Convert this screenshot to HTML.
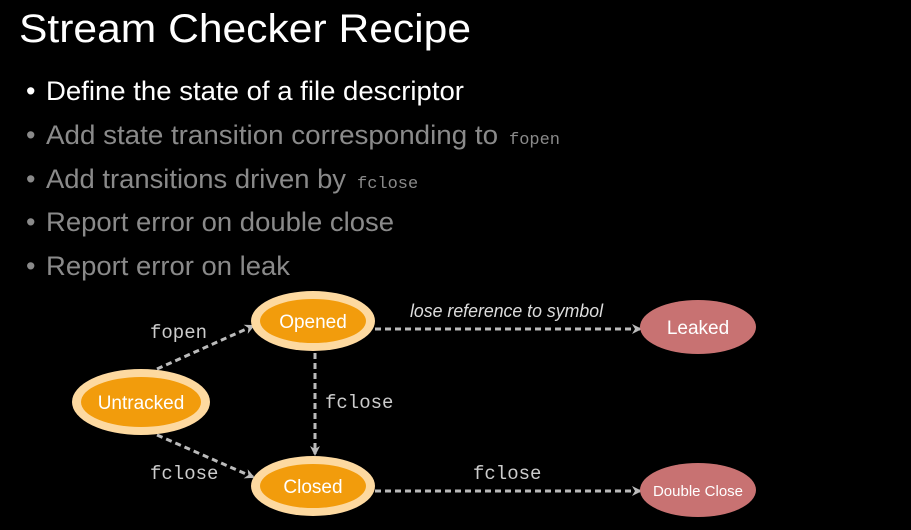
<!DOCTYPE html>
<html><head><meta charset="utf-8"><style>
html,body{margin:0;padding:0;background:#000;width:911px;height:530px;overflow:hidden}
</style></head><body>
<svg width="911" height="530" xmlns="http://www.w3.org/2000/svg" font-family="Liberation Sans, sans-serif">
<defs>
<marker id="a" markerWidth="10" markerHeight="10" refX="8" refY="5" orient="auto" markerUnits="userSpaceOnUse">
<path d="M0,0 L10,5 L0,10 L3,5 z" fill="#bbb"/></marker>
</defs>
<rect width="911" height="530" fill="#000"/>
<text x="19" y="42" font-size="40" fill="#fff" textLength="452" lengthAdjust="spacingAndGlyphs">Stream Checker Recipe</text>
<g font-size="27">
<text x="26" y="100" fill="#fff">•</text>
<text x="46" y="100" fill="#fff" textLength="418" lengthAdjust="spacingAndGlyphs">Define the state of a file descriptor</text>
<g fill="#8a8a8a">
<text x="26" y="144">•</text>
<text x="46" y="144" textLength="452" lengthAdjust="spacingAndGlyphs">Add state transition corresponding to</text>
<text x="509" y="144" font-family="Liberation Mono, monospace" font-size="17">fopen</text>
<text x="26" y="188">•</text>
<text x="46" y="188" textLength="300" lengthAdjust="spacingAndGlyphs">Add transitions driven by</text>
<text x="357" y="188" font-family="Liberation Mono, monospace" font-size="17">fclose</text>
<text x="26" y="231">•</text>
<text x="46" y="231" textLength="348" lengthAdjust="spacingAndGlyphs">Report error on double close</text>
<text x="26" y="275">•</text>
<text x="46" y="275" textLength="244" lengthAdjust="spacingAndGlyphs">Report error on leak</text>
</g></g>
<g stroke="#bbb" stroke-width="3" stroke-dasharray="6,4" fill="none" marker-end="url(#a)">
<line x1="157" y1="369" x2="253" y2="326"/>
<line x1="157" y1="435" x2="253" y2="477"/>
<line x1="315" y1="353" x2="315" y2="454"/>
<line x1="375" y1="329" x2="640" y2="329"/>
<line x1="375" y1="491" x2="640" y2="491"/>
</g>
<g font-family="Liberation Mono, monospace" font-size="19" fill="#ccc">
<text x="150" y="338">fopen</text>
<text x="325" y="408">fclose</text>
<text x="150" y="479">fclose</text>
<text x="473" y="479">fclose</text>
</g>
<text x="410" y="317" font-size="18" font-style="italic" fill="#ddd" textLength="193" lengthAdjust="spacingAndGlyphs">lose reference to symbol</text>
<g>
<ellipse cx="313" cy="321" rx="62" ry="30" fill="#fdd9a0"/>
<ellipse cx="313" cy="321" rx="53" ry="22" fill="#f29c0c"/>
<ellipse cx="141" cy="402" rx="69" ry="33" fill="#fdd9a0"/>
<ellipse cx="141" cy="402" rx="60" ry="25" fill="#f29c0c"/>
<ellipse cx="313" cy="486" rx="62" ry="30" fill="#fdd9a0"/>
<ellipse cx="313" cy="486" rx="53" ry="22" fill="#f29c0c"/>
<ellipse cx="698" cy="327" rx="58" ry="27" fill="#c87272"/>
<ellipse cx="698" cy="490" rx="58" ry="27" fill="#c87272"/>
</g>
<g fill="#fff" text-anchor="middle" font-size="19">
<text x="313" y="328">Opened</text>
<text x="141" y="409">Untracked</text>
<text x="313" y="493">Closed</text>
<text x="698" y="334">Leaked</text>
<text x="698" y="496" font-size="15">Double Close</text>
</g>
</svg>
</body></html>
